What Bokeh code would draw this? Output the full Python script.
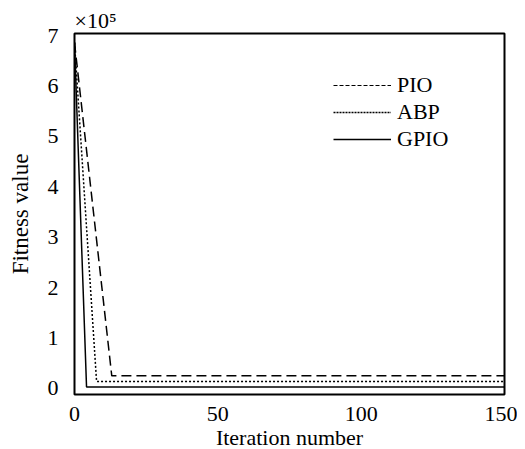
from bokeh.plotting import figure
from bokeh.models import Range1d, FixedTicker, Legend, LegendItem
from bokeh.embed import file_html
from bokeh.resources import INLINE

# Data (fitness values in units of 1e5)
pio_iter = [0, 13, 150]
pio_fit = [6.86, 0.25, 0.25]
abp_iter = [0, 7.7, 150]
abp_fit = [6.86, 0.14, 0.14]
gpio_iter = [0, 4.2, 150]
gpio_fit = [6.86, 0.03, 0.03]
x_ticks = [0, 50, 100, 150]
y_ticks = [0, 1, 2, 3, 4, 5, 6, 7]

FONT = "Liberation Serif"
NAN = float("nan")

p = figure(width=517, height=440, output_backend="svg", toolbar_location=None,
           x_range=Range1d(0, 150), y_range=Range1d(-0.12, 7.04),
           min_border_left=74, min_border_right=13, min_border_top=33, min_border_bottom=46)
p.frame_width = 430
p.frame_height = 361

p.title.text = "×10⁵"
p.title.text_font = FONT
p.title.text_font_size = "22px"
p.title.text_font_style = "normal"
p.title.text_color = "black"
p.title.offset = 0
p.title.standoff = 2

p.grid.visible = False
p.outline_line_color = "black"
p.outline_line_width = 2
p.outline_line_alpha = 1.0

for ax in (p.xaxis[0], p.yaxis[0]):
    ax.axis_line_color = None
    ax.major_tick_line_color = None
    ax.minor_tick_line_color = None
    ax.major_label_text_font = FONT
    ax.major_label_text_font_size = "22px"
    ax.major_label_text_color = "black"
    ax.axis_label_text_font = FONT
    ax.axis_label_text_font_size = "22px"
    ax.axis_label_text_font_style = "normal"
    ax.axis_label_text_color = "black"

p.yaxis.axis_label_text_font_size = "23px"
p.xaxis.ticker = FixedTicker(ticks=x_ticks)
p.yaxis.ticker = FixedTicker(ticks=y_ticks)
p.xaxis.axis_label = "Iteration number"
p.yaxis.axis_label = "Fitness value"
p.xaxis.major_label_standoff = 6
p.xaxis.axis_label_standoff = 1
p.yaxis.major_label_standoff = 10
p.yaxis.axis_label_standoff = 12

p.line(pio_iter, pio_fit, line_color="black", line_width=1.5, line_dash="10 5")
p.line(abp_iter, abp_fit, line_color="black", line_width=1.5, line_dash="2 2")
r_gpio = p.line(gpio_iter, gpio_fit, line_color="black", line_width=1.5)

# legend-only swatches (finer dash patterns as in the reference legend); no drawn points
l_pio = p.line([NAN], [NAN], line_color="black", line_width=1.2, line_dash="4 2")
l_abp = p.line([NAN], [NAN], line_color="black", line_width=1.4, line_dash="2 1")

legend = Legend(items=[LegendItem(label="PIO", renderers=[l_pio]),
                       LegendItem(label="ABP", renderers=[l_abp]),
                       LegendItem(label="GPIO", renderers=[r_gpio])],
                location=(259, 242), orientation="vertical",
                background_fill_alpha=0, border_line_alpha=0,
                glyph_width=58, glyph_height=18, label_standoff=6, spacing=1,
                padding=0, margin=0,
                label_text_font=FONT, label_text_font_size="22px", label_text_color="black")
p.add_layout(legend, "center")

open("out.html", "w").write(file_html(p, INLINE))
